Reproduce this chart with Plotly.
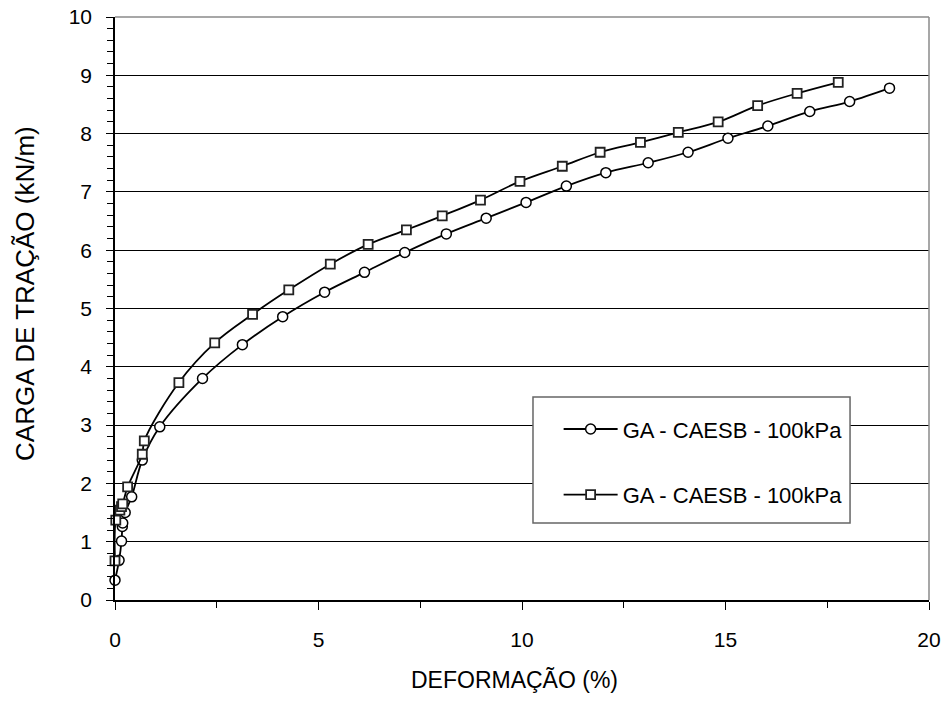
import plotly.graph_objects as go

# ---- data ----
deformacao_circ = [0, 0.1, 0.16, 0.18, 0.19, 0.25, 0.41, 0.67, 1.1, 2.15, 3.13, 4.12, 5.15,
                   6.13, 7.12, 8.14, 9.12, 10.1, 11.09, 12.06, 13.1, 14.08, 15.06, 16.04,
                   17.07, 18.05, 19.03]
carga_circ = [0.34, 0.68, 1.01, 1.26, 1.32, 1.5, 1.77, 2.4, 2.97, 3.8, 4.38, 4.86, 5.28,
              5.62, 5.96, 6.28, 6.55, 6.82, 7.1, 7.33, 7.5, 7.68, 7.92, 8.13,
              8.38, 8.55, 8.78]

deformacao_quad = [0, 0.02, 0.12, 0.16, 0.19, 0.31, 0.67, 0.72, 1.57, 2.45, 3.38, 4.27, 5.29,
                   6.22, 7.16, 8.04, 8.98, 9.95, 10.99, 11.92, 12.91, 13.84, 14.82, 15.79,
                   16.76, 17.77]
carga_quad = [0.67, 1.37, 1.54, 1.6, 1.65, 1.94, 2.5, 2.73, 3.73, 4.41, 4.9, 5.32, 5.76,
              6.1, 6.35, 6.59, 6.86, 7.18, 7.44, 7.68, 7.85, 8.02, 8.2, 8.48,
              8.69, 8.88]

legend_labels = ["GA - CAESB - 100kPa", "GA - CAESB - 100kPa"]
x_ticks = [0, 5, 10, 15, 20]
y_ticks = list(range(0, 11))
x_title = "DEFORMAÇÃO (%)"
y_title = "CARGA DE TRAÇÃO (kN/m)"

FONT = "Liberation Sans, Arial, sans-serif"

fig = go.Figure()
fig.add_trace(go.Scatter(
    x=deformacao_circ, y=carga_circ, mode="lines+markers", name=legend_labels[0],
    legendgroup="g1", cliponaxis=False,
    line=dict(color="black", width=1.8, shape="spline", smoothing=1),
    marker=dict(symbol="circle", size=10, color="white", line=dict(color="black", width=1.5)),
))
fig.add_trace(go.Scatter(
    x=deformacao_quad, y=carga_quad, mode="lines+markers", name=legend_labels[1],
    legendgroup="g2", cliponaxis=False,
    line=dict(color="black", width=1.8, shape="spline", smoothing=1),
    marker=dict(symbol="square", size=9, color="white", line=dict(color="#222", width=1.8)),
))

fig.update_layout(
    width=946, height=718,
    margin=dict(l=115, r=17, t=17, b=118, autoexpand=False),
    paper_bgcolor="white", plot_bgcolor="white",
    font=dict(family=FONT, color="black", size=22),
    showlegend=True,
    legend=dict(
        x=0.545, y=0.329, xanchor="left", yanchor="top",
        bgcolor="rgba(0,0,0,0)", borderwidth=0,
        font=dict(family=FONT, size=22, color="black"),
        traceorder="grouped", tracegroupgap=34, itemwidth=54,
    ),
    shapes=[
        dict(type="line", xref="x domain", yref="y domain", x0=0, x1=1, y0=1, y1=1,
             line=dict(color="#8a8a8a", width=1.5), layer="above"),
        dict(type="line", xref="x domain", yref="y domain", x0=1, x1=1, y0=0, y1=1,
             line=dict(color="#8a8a8a", width=1.5), layer="above"),
        dict(type="rect", xref="paper", yref="paper", x0=0.5135, x1=0.903, y0=0.132, y1=0.348,
             fillcolor="white", line=dict(color="#666666", width=1.5), layer="above"),
    ],
    annotations=[
        dict(text=x_title, xref="paper", yref="paper", x=0.4914, y=-0.137,
             xanchor="center", yanchor="middle", showarrow=False,
             font=dict(family=FONT, size=23, color="black")),
        dict(text=y_title, xref="paper", yref="paper", x=-0.1106, y=0.5266,
             xanchor="center", yanchor="middle", showarrow=False, textangle=-90,
             font=dict(family=FONT, size=26, color="black")),
    ],
)

fig.update_xaxes(
    range=[0, 20], tickvals=x_ticks, ticks="outside", ticklen=8, tickwidth=1.2, tickcolor="black",
    showline=True, linecolor="black", linewidth=1.5, showgrid=False, zeroline=False, automargin=False,
    minor=dict(dtick=2.5, tick0=0, ticks="outside", ticklen=6, tickwidth=1.2, tickcolor="black", showgrid=False),
    tickfont=dict(family=FONT, size=21, color="black"), ticklabelstandoff=12,
)
fig.update_yaxes(
    range=[0, 10], tickvals=y_ticks, ticks="outside", ticklen=7, tickwidth=1.2, tickcolor="black",
    showline=True, linecolor="black", linewidth=1.5, showgrid=True, gridcolor="black", gridwidth=1,
    zeroline=False, automargin=False,
    minor=dict(dtick=0.2, tick0=0, ticks="outside", ticklen=6, tickwidth=1.2, tickcolor="black", showgrid=False),
    tickfont=dict(family=FONT, size=21, color="black"), ticklabelstandoff=10,
)

fig.write_html("out.html")
